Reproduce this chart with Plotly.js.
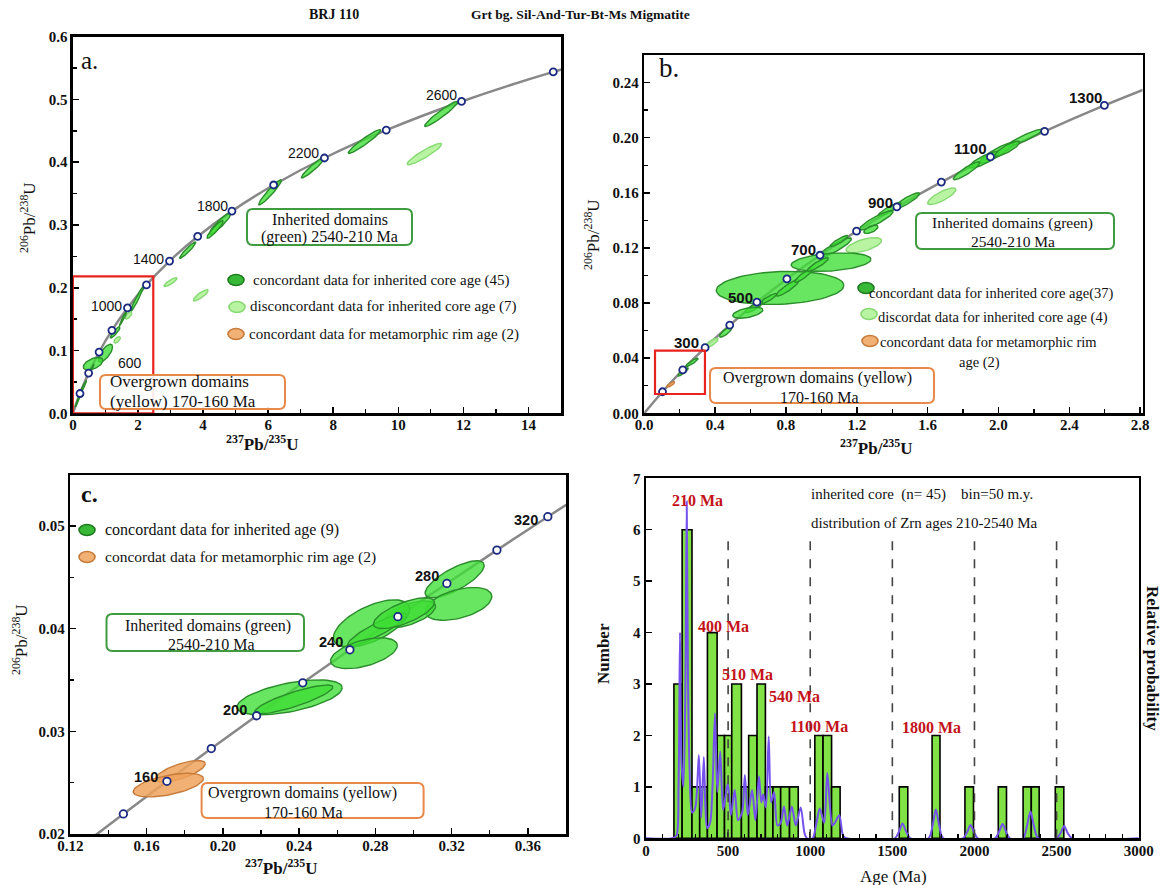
<!DOCTYPE html>
<html><head><meta charset="utf-8">
<script src="https://cdn.plot.ly/plotly-3.0.1.min.js"></script>
<style>html,body{margin:0;padding:0;background:#fff}#chart{width:1172px;height:885px}</style>
</head><body><div id="chart"></div>
<script>
// ================= DATA =================
// Concordia reference (age Ma, 207Pb/235U, 206Pb/238U)
const concAgeA = [0,200,400,600,800,1000,1200,1400,1600,1800,2000,2200,2400,2600,2800,3000];
const concXA = [0,0.21771,0.48285,0.80556,1.19878,1.67741,2.26026,2.97020,3.83470,4.88736,6.16850,7.72950,9.62950,11.94400,14.76180,18.19250];
const concYA = [0,0.031511,0.064016,0.097544,0.132132,0.167815,0.204602,0.242578,0.281733,0.322120,0.363764,0.406738,0.451063,0.496802,0.543951,0.592593];

const concAgeB = [0,100,200,300,400,500,600,700,800,900,1000,1100,1200,1300,1400];
const concXB = [0,0.10350,0.21771,0.34376,0.48285,0.63626,0.80556,0.99253,1.19878,1.42634,1.67741,1.95457,2.26026,2.59770,2.97020];
const concYB = [0,0.015633,0.031511,0.047637,0.064016,0.080650,0.097544,0.114702,0.132132,0.149830,0.167815,0.186055,0.204602,0.223430,0.242578];

const concAgeC = [120,140,160,180,200,220,240,260,280,300,320,340];
const concXC = [0.125449,0.147838,0.170677,0.193958,0.217710,0.241922,0.266638,0.291821,0.317507,0.343760,0.370459,0.397766];
const concYC = [0.018789,0.021955,0.025131,0.028316,0.031511,0.034717,0.037932,0.041157,0.044392,0.047637,0.050893,0.054158];

// Error ellipses: centre, sigma, correlation, type (c = concordant inherited, d = discordant, m = metamorphic rim)
const ellA_x   = [11.32,8.96,7.39,10.80,6.06,4.52,4.37,3.53,3.00,3.93,1.97,1.71,1.30,1.36,1.00,0.62,0.30,0.55,0.15,1.55];
const ellA_sx  = [0.51,0.50,0.37,0.53,0.35,0.33,0.25,0.25,0.20,0.23,0.20,0.10,0.15,0.10,0.22,0.30,0.12,0.10,0.08,0.12];
const ellA_y   = [0.477,0.433,0.392,0.413,0.352,0.302,0.293,0.260,0.209,0.188,0.182,0.156,0.129,0.117,0.096,0.079,0.040,0.068,0.020,0.152];
const ellA_sy  = [0.020,0.019,0.017,0.017,0.020,0.017,0.014,0.013,0.007,0.009,0.020,0.006,0.009,0.005,0.014,0.010,0.012,0.010,0.010,0.012];
const ellA_rho = [0.95,0.95,0.95,0.92,0.95,0.92,0.92,0.95,0.85,0.85,0.97,0.7,0.9,0.6,0.7,0.5,0.97,0.97,0.97,0.97];
const ellA_t   = ['c','c','c','d','c','c','c','c','d','d','c','d','c','d','c','c','c','c','c','c'];

const ellB_x   = [2.15,1.99,1.92,1.82,2.05,1.68,1.48,1.385,1.31,1.28,1.24,1.075,1.055,0.767,0.81,0.90,0.98,0.70,0.62,0.585,0.46,0.38,0.27,0.22,0.15,1.10];
const ellB_sx  = [0.10,0.096,0.085,0.075,0.07,0.08,0.075,0.065,0.095,0.04,0.10,0.095,0.225,0.36,0.065,0.05,0.06,0.05,0.05,0.085,0.035,0.037,0.035,0.03,0.022,0.05];
const ellB_y   = [0.200,0.189,0.184,0.176,0.192,0.1575,0.154,0.148,0.140,0.1335,0.122,0.120,0.1097,0.091,0.091,0.100,0.108,0.083,0.077,0.073,0.059,0.051,0.037,0.030,0.021,0.125];
const ellB_sy  = [0.0062,0.0075,0.006,0.0065,0.0055,0.006,0.006,0.005,0.007,0.003,0.0055,0.0072,0.0067,0.012,0.006,0.005,0.005,0.004,0.004,0.004,0.0037,0.0035,0.003,0.003,0.002,0.004];
const ellB_rho = [0.93,0.9,0.85,0.9,0.85,0.8,0.9,0.9,0.9,0.6,0.6,0.9,0.3,0.15,0.9,0.9,0.9,0.9,0.85,0.5,0.8,0.8,0.9,0.9,0.8,0.9];
const ellB_t   = ['c','c','c','c','c','d','c','c','c','c','d','c','c','c','c','c','c','c','c','c','c','d','c','c','m','c'];

const ellC_x   = [0.3216,0.3236,0.298,0.278,0.281,0.295,0.274,0.235,0.2372,0.1777,0.1714];
const ellC_sx  = [0.0155,0.0175,0.0136,0.020,0.0155,0.016,0.0175,0.0276,0.0205,0.0131,0.0184];
const ellC_y   = [0.0448,0.0424,0.0414,0.0405,0.0399,0.0415,0.0376,0.0333,0.0331,0.0261,0.02476];
const ellC_sy  = [0.0018,0.0016,0.0013,0.0023,0.0016,0.0015,0.0015,0.0017,0.0014,0.00105,0.00115];
const ellC_rho = [0.75,0.45,0.6,0.6,0.9,0.7,0.5,0.55,0.85,0.7,0.55];
const ellC_t   = ['c','c','c','c','c','c','c','c','c','m','m'];

// Histogram (bin=50 m.y.)
const binLo  = [170,220,280,327,374,433,478,522,581,625,676,727,773,820,874,1028,1078,1130,1542,1742,1942,2145,2296,2346,2492];
const binHi  = [220,280,327,374,433,478,522,581,625,676,727,773,820,874,927,1078,1130,1182,1594,1790,1994,2195,2346,2394,2544];
const counts = [3,6,1,1,4,2,2,3,1,2,3,1,1,1,1,2,2,1,1,2,1,1,1,1,1];

// Relative probability curve (in Number units)
const probAge = [0,160,185,198,207,216,228,240,248,256,266,280,300,322,336,352,362,372,390,405,420,434,452,470,498,517,540,560,585,602,620,646,666,688,702,713,730,747,762,780,800,820,840,860,888,912,942,965,980,1015,1035,1058,1085,1104,1135,1150,1177,1200,1220,1515,1540,1562,1584,1610,1720,1745,1765,1785,1810,1930,1955,1976,1997,2020,2125,2150,2171,2192,2215,2296,2319,2341,2363,2388,2500,2524,2546,2568,2595,3000];
const probVal = [0,0,0.05,1.0,4.0,1.5,1.0,3.0,6.55,3.0,1.3,0.5,0.6,1.62,0.4,1.58,0.6,0.2,0.3,1.0,2.43,0.9,1.69,0.55,1.07,0.45,0.94,0.35,0.5,1.23,0.45,0.94,0.35,1.2,0.7,0.85,0.6,1.98,0.7,0.9,0.25,0.3,0.62,0.25,0.62,0.25,0.6,0.1,0,0,0.25,0.58,0.3,1.27,0.25,0.3,0.45,0.05,0,0,0.13,0.29,0.13,0,0,0.25,0.56,0.25,0,0,0.12,0.26,0.12,0,0,0.13,0.28,0.13,0,0,0.23,0.52,0.23,0,0,0.1,0.24,0.1,0,0];

const dashAges = [500,1000,1500,2000,2500];
const zoomBoxA = [0,2.47,0,0.218];
const zoomBoxB = [0.061,0.343,0.014,0.0455];

// ================= DRAWING =================
const W=1172,H=885;
const PX=v=>v/W, PY=v=>1-v/H;
const SERIF='"Liberation Serif","Times New Roman",serif';
const SANS='"Liberation Sans",Arial,sans-serif';

const STY = {
  c:{fill:'rgba(62,222,52,0.78)', line:'#2a8c2a'},
  d:{fill:'rgba(172,242,145,0.85)', line:'#86d873'},
  m:{fill:'rgba(238,162,92,0.85)', line:'#c77b3a'}
};

function ellTraces(X,SX,Y,SY,R,T,xa,ya){
  const out=[];
  for(let i=0;i<X.length;i++){
    const xs=[],ys=[],n=72,r=R[i],q=Math.sqrt(1-r*r);
    for(let k=0;k<=n;k++){const th=2*Math.PI*k/n;
      xs.push(X[i]+SX[i]*Math.cos(th));
      ys.push(Y[i]+SY[i]*(r*Math.cos(th)+q*Math.sin(th)));}
    const s=STY[T[i]];
    out.push({x:xs,y:ys,mode:'lines',fill:'toself',fillcolor:s.fill,line:{color:s.line,width:1.4},xaxis:xa,yaxis:ya,hoverinfo:'skip'});
  }
  return out;
}
function concLine(X,Y,xa,ya){return {x:X,y:Y,mode:'lines',line:{color:'#888',width:2.5,shape:'spline'},xaxis:xa,yaxis:ya,hoverinfo:'skip'};}
function concMk(A,X,Y,xa,ya,sz){
  const xs=[],ys=[];A.forEach((a,i)=>{if(a>0){xs.push(X[i]);ys.push(Y[i]);}});
  return {x:xs,y:ys,mode:'markers',marker:{symbol:'circle',size:sz,color:'#fff',line:{color:'#1b2a80',width:1.8}},xaxis:xa,yaxis:ya,hoverinfo:'skip'};
}

const traces=[];
traces.push(concLine(concXA,concYA,'x','y'));
traces.push(...ellTraces(ellA_x,ellA_sx,ellA_y,ellA_sy,ellA_rho,ellA_t,'x','y'));
traces.push(concMk(concAgeA,concXA,concYA,'x','y',7));
traces.push(concLine(concXB,concYB,'x2','y2'));
traces.push(...ellTraces(ellB_x,ellB_sx,ellB_y,ellB_sy,ellB_rho,ellB_t,'x2','y2'));
traces.push(concMk(concAgeB,concXB,concYB,'x2','y2',7));
traces.push(concLine(concXC,concYC,'x3','y3'));
traces.push(...ellTraces(ellC_x,ellC_sx,ellC_y,ellC_sy,ellC_rho,ellC_t,'x3','y3'));
traces.push(concMk(concAgeC,concXC,concYC,'x3','y3',7.5));

traces.push({type:'bar',x:binLo.map((l,i)=>(l+binHi[i])/2),y:counts,width:binLo.map((l,i)=>binHi[i]-l),
  marker:{color:'#80e244',line:{color:'#000',width:1.6}},xaxis:'x4',yaxis:'y4',hoverinfo:'skip'});
traces.push({x:probAge,y:probVal,mode:'lines',line:{color:'#7552ee',width:2,shape:'spline',smoothing:0.8},xaxis:'x4',yaxis:'y4',hoverinfo:'skip'});

function axis(o){
  const a={domain:o.domain,range:o.range,anchor:o.anchor,dtick:o.dtick,tick0:o.tick0||0,tickformat:o.fmt,
    ticks:'inside',ticklen:6,tickwidth:1.5,tickcolor:'#000',showline:true,mirror:true,linecolor:'#000',linewidth:2.5,
    showgrid:false,zeroline:false,fixedrange:true,ticklabelstandoff:o.standoff||0,
    tickfont:{family:SERIF,size:15,weight:700,color:'#111'}};
  if(o.minor) a.minor={dtick:o.minor,tick0:o.tick0||0,ticks:'inside',ticklen:4,tickwidth:1.3,tickcolor:'#000',showgrid:false};
  return a;
}

const layout={
  width:W,height:H,margin:{l:0,r:0,t:0,b:0},paper_bgcolor:'#fff',plot_bgcolor:'#fff',showlegend:false,
  xaxis: axis({domain:[PX(72.9),PX(561)],range:[0,15],anchor:'y',dtick:2,minor:1,fmt:'d',standoff:-4}),
  yaxis: axis({domain:[PY(413.3),PY(36.7)],range:[0,0.6],anchor:'x',dtick:0.1,minor:0.05,fmt:'.1f'}),
  xaxis2:axis({domain:[PX(644.2),PX(1142.5)],range:[0,2.813],anchor:'y2',dtick:0.4,minor:0.2,fmt:'.1f',standoff:-4}),
  yaxis2:axis({domain:[PY(413.3),PY(55)],range:[0,0.26],anchor:'x2',dtick:0.04,minor:0.02,fmt:'.2f'}),
  xaxis3:axis({domain:[PX(70.3),PX(566)],range:[0.12,0.38],anchor:'y3',dtick:0.04,tick0:0.12,minor:0.02,fmt:'.2f',standoff:-4}),
  yaxis3:axis({domain:[PY(834),PY(475)],range:[0.02,0.05495],anchor:'x3',dtick:0.01,minor:0.005,fmt:'.2f'}),
  xaxis4:axis({domain:[PX(646),PX(1138.7)],range:[0,3000],anchor:'y4',dtick:500,minor:100,fmt:'d',standoff:-3}),
  yaxis4:axis({domain:[PY(838.3),PY(478.3)],range:[0,7],anchor:'x4',dtick:1,fmt:'d'}),
  shapes:[],annotations:[]
};

// zoom boxes
layout.shapes.push({type:'rect',xref:'x',yref:'y',x0:zoomBoxA[0],x1:zoomBoxA[1],y0:zoomBoxA[2],y1:zoomBoxA[3],line:{color:'#e8231f',width:2.2}});
layout.shapes.push({type:'rect',xref:'x2',yref:'y2',x0:zoomBoxB[0],x1:zoomBoxB[1],y0:zoomBoxB[2],y1:zoomBoxB[3],line:{color:'#e8231f',width:2.2}});
// dashed lines in histogram
dashAges.forEach(a=>layout.shapes.push({type:'line',xref:'x4',yref:'y4',x0:a,x1:a,y0:0,y1:5.85,line:{color:'#444',width:1.6,dash:'dash'}}));

// rounded boxes
function rbox(x0,y0,x1,y1,col){
  const rx=6/W,ry=6/H; const a=PX(x0),b=PX(x1),t=PY(y0),u=PY(y1);
  const p=`M ${a+rx},${u} L ${b-rx},${u} Q ${b},${u} ${b},${u+ry} L ${b},${t-ry} Q ${b},${t} ${b-rx},${t} L ${a+rx},${t} Q ${a},${t} ${a},${t-ry} L ${a},${u+ry} Q ${a},${u} ${a+rx},${u} Z`;
  layout.shapes.push({type:'path',xref:'paper',yref:'paper',path:p,line:{color:col,width:2},fillcolor:'rgba(255,255,255,0.9)'});
}
const GRN='#3f9b3f', ORG='#e8894a';
rbox(247,209,412,245,GRN); rbox(100,375,285,409,ORG);
rbox(916,213,1114,249,GRN); rbox(710,368,934,403,ORG);
rbox(106.5,614,304,651,GRN); rbox(201.6,783,423.6,818,ORG);

function icon(cx,cy,t){const s=STY[t];
  layout.shapes.push({type:'circle',xref:'paper',yref:'paper',x0:PX(cx-8),x1:PX(cx+8),y0:PY(cy+5.5),y1:PY(cy-5.5),
    fillcolor:t==='c'?'#37b837':s.fill,line:{color:t==='c'?'#1f7a1f':s.line,width:1.6}});}
icon(236,280,'c');icon(237,307,'d');icon(236,334,'m');
icon(866,288,'c');icon(869,314,'d');icon(870,341,'m');
icon(87,530,'c');icon(87,557,'m');

function T(text,x,y,o={}){
  layout.annotations.push({text,x:PX(x),y:PY(y),xref:'paper',yref:'paper',showarrow:false,
    xanchor:o.xa||'center',yanchor:'middle',textangle:o.ang||0,
    font:{family:o.fam||SERIF,size:o.size||15,color:o.color||'#111',weight:o.bold?700:400}});
}
// titles
T('BRJ 110',334,15,{size:14,bold:true});
T('Grt bg. Sil-And-Tur-Bt-Ms Migmatite',580,15,{size:13.5,bold:true});
// panel letters
T('a.',89,60,{size:25});
T('b.',669,68,{size:27});
T('c.',89,494,{size:24,bold:true});
// axis titles
const YT='<sup>206</sup>Pb/<sup>238</sup>U', XT='<sup>237</sup>Pb/<sup>235</sup>U';
T(YT,28,218,{size:17,ang:-90});
T(XT,262,443,{size:17,bold:true});
T(YT,592,235,{size:17,ang:-90});
T(XT,876,447,{size:17,bold:true});
T(YT,20,640,{size:17,ang:-90});
T(XT,281,867,{size:17,bold:true});
T('Number',603,654,{size:17,bold:true,ang:-90});
T('Relative probability',1153,658,{size:17,bold:true,ang:90});
T('Age (Ma)',893,876,{size:17});
// concordia age labels
[['2600',441,95],['2200',303,153],['1800',212,206],['1400',148,259],['1000',106,306],['600',130,363]]
  .forEach(l=>T(l[0],l[1],l[2],{fam:SANS,size:14}));
[['1300',1085,97],['1100',970,148],['900',880,202],['700',803,249],['500',740,297],['300',686,343]]
  .forEach(l=>T(l[0],l[1],l[2],{fam:SANS,size:15,bold:true}));
[['320',526,520],['280',427,576],['240',331,642],['200',235,710],['160',146,777]]
  .forEach(l=>T(l[0],l[1],l[2],{fam:SANS,size:14.5,bold:true}));
// panel a texts
T('Inherited domains',329.5,219,{size:16});
T('(green) 2540-210 Ma',329.5,237,{size:16});
T('Overgrown domains',108,382,{size:17,xa:'left'});
T('(yellow) 170-160 Ma',108,402,{size:17,xa:'left'});
T('concordant data for inherited core age (45)',251,280,{size:15,xa:'left'});
T('disconcordant data for inherited core age (7)',248,307,{size:15,xa:'left'});
T('concordant data for metamorphic rim age (2)',247,334,{size:15,xa:'left'});
// panel b texts
T('Inherited domains (green)',1012,223,{size:15.5});
T('2540-210 Ma',1013,241,{size:15.5});
T('Overgrown domains (yellow)',817,378,{size:16});
T('170-160 Ma',819,397,{size:16});
T('concordant data for inherited core age(37)',867,293,{size:14.5,xa:'left'});
T('discordat data for inherited core age (4)',876,317,{size:14.5,xa:'left'});
T('concordant data for metamorphic rim',878,342,{size:14.5,xa:'left'});
T('age (2)',979,362,{size:14.5});
// panel c texts
T('concordant data for inherited age (9)',103,530,{size:16,xa:'left'});
T('concordat data for metamorphic rim age (2)',103,557,{size:15.5,xa:'left'});
T('Inherited domains (green)',208,626,{size:16});
T('2540-210 Ma',211,644,{size:16});
T('Overgrown domains (yellow)',302,793,{size:16});
T('170-160 Ma',304,812,{size:16});
// panel d texts
T('inherited core\u00a0\u00a0(n= 45)\u00a0\u00a0\u00a0\u00a0bin=50 m.y.',809,495,{size:15,xa:'left'});
T('distribution of Zrn ages 210-2540 Ma',809,523,{size:15,xa:'left'});
const RED='#c4121a';
[['210 Ma',697,500],['400 Ma',723,626],['510 Ma',747,674],['540 Ma',794,696],['1100 Ma',819,726],['1800 Ma',932,727]]
  .forEach(l=>T(l[0],l[1],l[2],{size:16,bold:true,color:RED}));

Plotly.newPlot('chart',traces,layout,{staticPlot:true});
</script></body></html>
